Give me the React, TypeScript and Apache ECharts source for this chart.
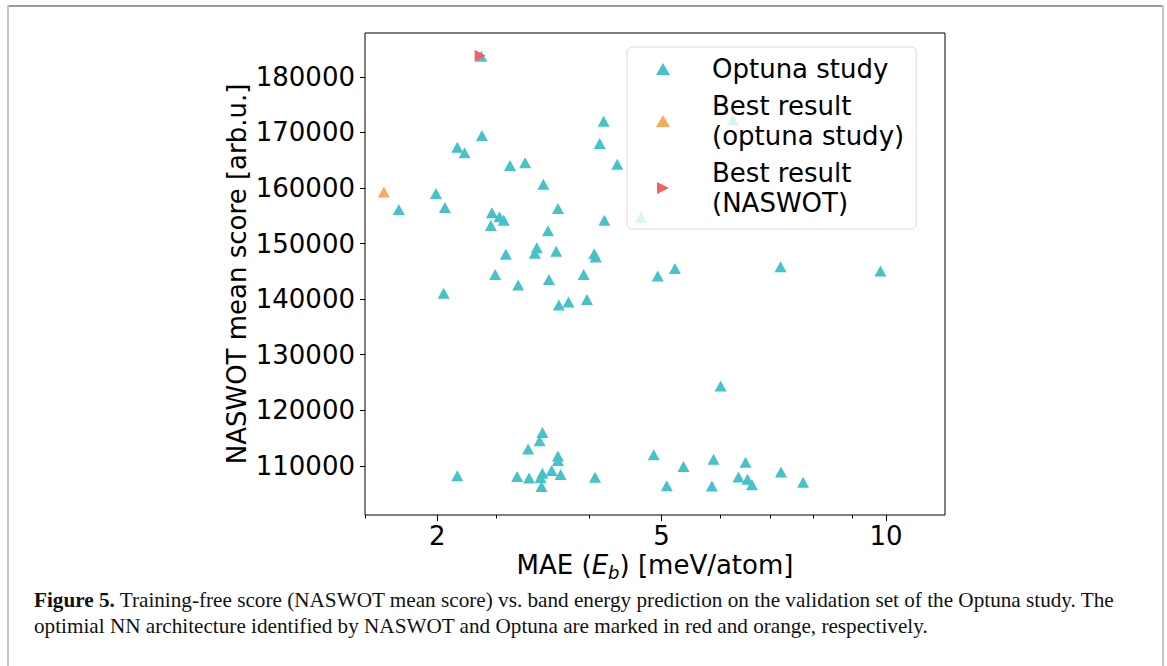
import React, { useEffect, useRef } from "react";
import * as echarts from "echarts";

// ---- data (MAE in meV/atom, NASWOT mean score in arb.u.) ----
const optunaMAE = [
  2.864, 4.18, 4.13, 2.87, 2.66, 2.72, 3.13, 3.28, 4.36, 2.49, 3.47, 2.22, 2.56, 3.63, 4.19,
  2.96, 3.03, 3.07, 2.95, 3.52, 3.40, 3.38, 3.61, 3.09, 4.06, 4.08, 2.99, 3.53, 3.93, 4.94,
  3.21, 5.21, 7.22, 9.83, 2.55, 3.64, 3.75, 3.97, 6.00, 3.46, 3.43, 3.31, 3.63, 3.63, 4.88,
  2.66, 3.20, 3.32, 3.46, 3.44, 3.56, 3.66, 4.07, 3.45, 5.35, 5.87, 6.48, 5.08, 5.84, 6.34,
  6.52, 6.61, 7.23, 7.74, 6.23, 4.69,
];
const optunaScore = [
  183700, 172000, 168000, 169450, 167350, 166350, 164050, 164550, 164300, 159000, 160700, 156150, 156500, 156300, 154200,
  155550, 154850, 154200, 153250, 152300, 149250, 148250, 148600, 148100, 148150, 147600, 144450, 143550, 144450, 144150,
  142550, 145500, 145850, 145050, 141050, 138950, 139500, 139950, 124350, 116000, 114500, 113050, 111750, 110950, 112000,
  108200, 108100, 107800, 108650, 107900, 109150, 108450, 107950, 106300, 109900, 111200, 110650, 106400, 106350, 108000,
  107600, 106600, 108900, 107050, 172300, 154750,
];
const bestOptunaMAE = [2.12];
const bestOptunaScore = [159300];
const bestNaswotMAE = [2.855];
const bestNaswotScore = [183800];

const seriesNames = ["Optuna study", "Best result\n(optuna study)", "Best result\n(NASWOT)"];
const xMajorTicks = [2.5, 5, 10];
const xMajorLabels = ["2", "5", "10"];
const xMinorTicks = [2, 3, 4, 6, 7, 8, 9];
const yTicks = [110000, 120000, 130000, 140000, 150000, 160000, 170000, 180000];
const xRange = [2, 12];
const yRange = [101150, 187900];

const TEAL = "#45c3c8";
const ORANGE = "#f8ab5e";
const RED = "#f0606a";
const FONT = "DejaVu Sans";
const RIGHT_TRIANGLE = "path://M0,0L12,6L0,12Z";

function pairs(xs: number[], ys: number[]) {
  return xs.map((x, i) => [x, ys[i]]);
}

export default function App() {
  const ref = useRef<HTMLDivElement>(null);
  useEffect(() => {
    const chart = echarts.init(ref.current!, undefined, { renderer: "svg", width: 1167, height: 666 });
    const option: any = {
      animation: false,
      backgroundColor: "#ffffff",
      grid: {
        left: 365,
        top: 33,
        width: 580,
        height: 482,
        show: true,
        borderColor: "#000",
        borderWidth: 1,
        backgroundColor: "transparent",
        containLabel: false,
        outerBoundsMode: "none",
      },
      xAxis: [
        {
          type: "log",
          logBase: 10,
          position: "bottom",
          min: xRange[0],
          max: xRange[1],
          axisLine: { show: false },
          splitLine: { show: false },
          minorTick: { show: false },
          axisTick: { show: true, customValues: xMajorTicks, length: 6, lineStyle: { color: "#000", width: 1 } },
          axisLabel: {
            show: true,
            customValues: xMajorTicks,
            margin: 8,
            color: "#000",
            fontSize: 26,
            fontFamily: FONT,
            formatter: (v: number) => {
              const i = xMajorTicks.findIndex((t) => Math.abs(t - v) < 1e-6);
              return i >= 0 ? xMajorLabels[i] : "";
            },
          },
        },
        {
          type: "log",
          logBase: 10,
          position: "bottom",
          offset: 0,
          min: xRange[0],
          max: xRange[1],
          axisLine: { show: false },
          splitLine: { show: false },
          axisTick: { show: true, customValues: xMinorTicks, length: 3.5, lineStyle: { color: "#000", width: 1 } },
          axisLabel: { show: false },
        },
      ],
      yAxis: {
        type: "value",
        min: yRange[0],
        max: yRange[1],
        axisLine: { show: false },
        splitLine: { show: false },
        axisTick: { show: true, customValues: yTicks, length: 5, lineStyle: { color: "#000", width: 1 } },
        axisLabel: {
          customValues: yTicks,
          margin: 10,
          color: "#000",
          fontSize: 26,
          fontFamily: FONT,
          formatter: (v: number) => String(v),
        },
      },
      legend: {
        orient: "vertical",
        left: 627,
        top: 47,
        padding: [7, 12, 11, 29],
        itemGap: 7,
        itemWidth: 14,
        itemHeight: 12,
        backgroundColor: "rgba(255,255,255,0.8)",
        borderColor: "#d9d9d9",
        borderWidth: 1,
        borderRadius: 5,
        selectedMode: false,
        textStyle: { fontSize: 26, fontFamily: FONT, color: "#000", lineHeight: 30, padding: [0, 0, 0, 37] },
        data: [
          { name: seriesNames[0] },
          { name: seriesNames[1] },
          { name: seriesNames[2], icon: RIGHT_TRIANGLE },
        ],
      },
      series: [
        {
          name: seriesNames[0],
          type: "scatter",
          symbol: "triangle",
          symbolSize: [12, 11],
          itemStyle: { color: TEAL, opacity: 1 },
          silent: true,
          data: pairs(optunaMAE, optunaScore),
        },
        {
          name: seriesNames[1],
          type: "scatter",
          symbol: "triangle",
          symbolSize: [12, 11],
          itemStyle: { color: ORANGE, opacity: 1 },
          silent: true,
          data: pairs(bestOptunaMAE, bestOptunaScore),
        },
        {
          name: seriesNames[2],
          type: "scatter",
          symbol: RIGHT_TRIANGLE,
          symbolKeepAspect: false,
          symbolSize: [11, 12],
          itemStyle: { color: RED, opacity: 1 },
          silent: true,
          data: pairs(bestNaswotMAE, bestNaswotScore),
        },
      ],
      graphic: [
        { type: "rect", shape: { x: 7, y: 5, width: 1157, height: 2 }, style: { fill: "#9a9a9a" }, silent: true },
        { type: "rect", shape: { x: 7, y: 5, width: 2, height: 661 }, style: { fill: "#c6c6c6" }, silent: true },
        { type: "rect", shape: { x: 1162, y: 5, width: 2, height: 661 }, style: { fill: "#c6c6c6" }, silent: true },
        {
          type: "text",
          x: 237,
          y: 274,
          rotation: Math.PI / 2,
          silent: true,
          style: {
            text: "NASWOT mean score [arb.u.]",
            fontSize: 26,
            fontFamily: FONT,
            fill: "#000",
            align: "center",
            verticalAlign: "middle",
          },
        },
        {
          type: "text",
          x: 655,
          y: 565,
          silent: true,
          style: {
            text: "MAE ({i|E}{s|b}) [meV/atom]",
            fontSize: 26,
            fontFamily: FONT,
            fill: "#000",
            align: "center",
            verticalAlign: "middle",
            lineHeight: 32,
            rich: {
              i: { fontSize: 26, fontFamily: FONT, fontStyle: "italic", fill: "#000", lineHeight: 32 },
              s: { fontSize: 18, fontFamily: FONT, fontStyle: "italic", fill: "#000", lineHeight: 16, verticalAlign: "bottom" },
            },
          },
        },
        {
          type: "text",
          x: 34,
          y: 600,
          silent: true,
          style: {
            text:
              "{b|Figure 5.} Training-free score (NASWOT mean score) vs. band energy prediction on the validation set of the Optuna study. The",
            fontSize: 21.2,
            fontFamily: "Liberation Serif",
            fill: "#111",
            align: "left",
            verticalAlign: "middle",
            rich: { b: { fontSize: 21.2, fontFamily: "Liberation Serif", fontWeight: "bold", fill: "#111" } },
          },
        },
        {
          type: "text",
          x: 34,
          y: 626,
          silent: true,
          style: {
            text: "optimial NN architecture identified by NASWOT and Optuna are marked in red and orange, respectively.",
            fontSize: 21.2,
            fontFamily: "Liberation Serif",
            fill: "#111",
            align: "left",
            verticalAlign: "middle",
          },
        },
      ],
    };
    chart.setOption(option);
    return () => chart.dispose();
  }, []);
  return (
    <div
      ref={ref}
      style={{ position: "fixed", left: 0, top: 0, width: 1167, height: 666, background: "#fff" }}
    />
  );
}
